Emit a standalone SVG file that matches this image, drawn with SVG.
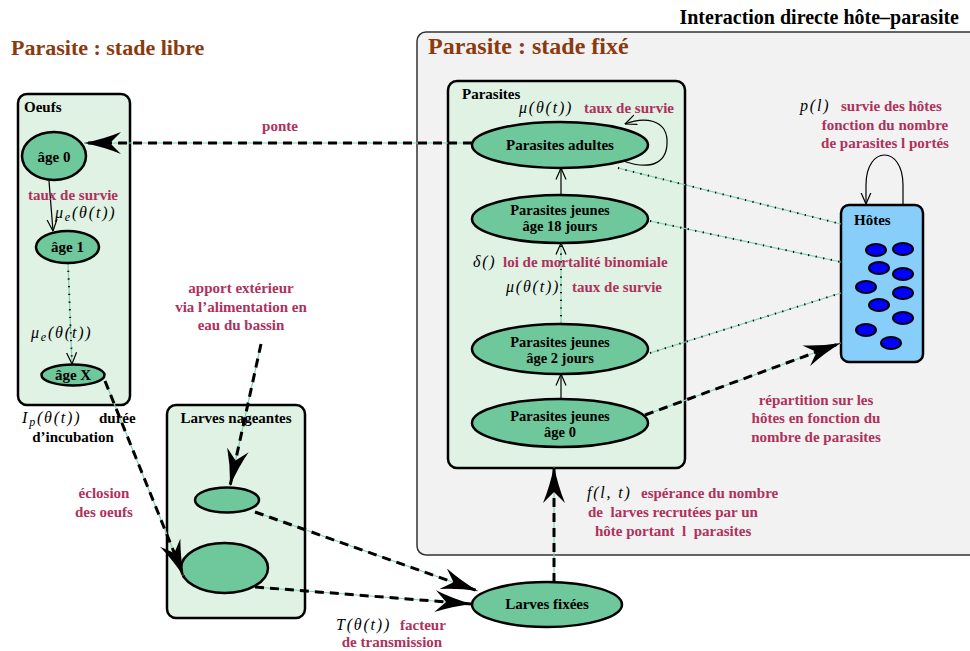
<svg xmlns="http://www.w3.org/2000/svg" width="970" height="651" viewBox="0 0 970 651">
<style>
text{font-family:"Liberation Serif","Times New Roman",serif;}
.lab{font-weight:bold;font-size:15px;fill:#000;text-anchor:middle}
.lab2{font-weight:bold;font-size:14.5px;fill:#000;text-anchor:middle}
.hd{font-weight:bold;font-size:15px;fill:#000}
.red{font-weight:bold;font-size:15px;fill:#b0305c}
.redc{font-weight:bold;font-size:15px;fill:#b0305c;text-anchor:middle}
.m{font-style:italic;font-size:16px;fill:#000;letter-spacing:1.8px}
.box{fill:#dff2e4;stroke:#000;stroke-width:2.5}
.ell{fill:#6fc79c;stroke:#000;stroke-width:2.5}
.g{fill:none;stroke:#7fd3b0;stroke-width:1.2}
.dash{fill:none;stroke:#000;stroke-width:3;stroke-dasharray:9 6}
.dot{fill:none;stroke:#000;stroke-width:2;stroke-dasharray:1.2 6.5}
.thin{fill:none;stroke:#000;stroke-width:1.2}
.host{fill:#0000ff;stroke:#000;stroke-width:2}
</style>
<defs>
<marker id="big" markerUnits="userSpaceOnUse" viewBox="0 0 38 22" markerWidth="38" markerHeight="22" refX="37" refY="11" orient="auto">
<path d="M37,11 Q17,7 0,0 L11,11 L0,22 Q17,15 37,11 Z" fill="#000" stroke="none"/>
</marker>
<marker id="open" markerUnits="userSpaceOnUse" viewBox="0 0 12 12" markerWidth="12" markerHeight="12" refX="11.5" refY="6" orient="auto">
<path d="M0,1 L11.5,6 L0,11" fill="none" stroke="#000" stroke-width="1.2" stroke-dasharray="none"/>
</marker>
</defs>

<rect width="970" height="651" fill="#fff"/>

<g id="titles">
<text x="959" y="24" font-weight="bold" font-size="20" text-anchor="end">Interaction directe hôte–parasite</text>
<text x="11" y="55" font-weight="bold" font-size="22" fill="#8b3a0f">Parasite : stade libre</text>
</g>

<g id="fixe">
<rect x="417" y="32" width="570" height="523" rx="9" fill="#f2f2f2" stroke="#333" stroke-width="1.5"/>
<text x="428" y="54" font-weight="bold" font-size="24" fill="#8b3a0f">Parasite : stade fixé</text>
</g>

<g id="oeufs">
<rect class="box" x="18" y="94" width="112" height="311" rx="9"/>
<text class="hd" x="24" y="112">Oeufs</text>
</g>
<g id="age0"><ellipse class="ell" cx="54" cy="156" rx="32" ry="24"/><text class="lab" x="54" y="162">âge 0</text></g>
<g id="age1"><ellipse class="ell" cx="67.5" cy="247" rx="31.5" ry="16"/><text class="lab" x="67.5" y="252">âge 1</text></g>
<g id="ageX"><ellipse class="ell" cx="73" cy="375" rx="31.5" ry="10.5"/><text class="lab" x="73" y="380">âge X</text></g>

<g id="parasites">
<rect class="box" x="448" y="81" width="237" height="387" rx="9"/>
<text class="hd" x="462" y="99">Parasites</text>
</g>
<g id="adultes"><ellipse class="ell" cx="560" cy="145" rx="88" ry="23"/><text class="lab" x="560" y="150">Parasites adultes</text></g>
<g id="j18"><ellipse class="ell" cx="560" cy="219" rx="88" ry="24"/><text class="lab2" x="560" y="215">Parasites jeunes</text><text class="lab2" x="560" y="231">âge 18 jours</text></g>
<g id="j2"><ellipse class="ell" cx="560" cy="349" rx="88" ry="25"/><text class="lab2" x="560" y="347">Parasites jeunes</text><text class="lab2" x="560" y="363">âge 2 jours</text></g>
<g id="j0"><ellipse class="ell" cx="560" cy="423" rx="88" ry="24"/><text class="lab2" x="560" y="421">Parasites jeunes</text><text class="lab2" x="560" y="437">âge 0</text></g>

<g id="hotes">
<rect x="841" y="205" width="82" height="157" rx="8" fill="#87cefa" stroke="#000" stroke-width="2.5"/>
<text class="hd" x="854" y="225">Hôtes</text>
<ellipse class="host" cx="876" cy="250" rx="10" ry="6"/>
<ellipse class="host" cx="903" cy="249" rx="10" ry="6"/>
<ellipse class="host" cx="879" cy="268" rx="10" ry="6"/>
<ellipse class="host" cx="903" cy="274" rx="10" ry="6"/>
<ellipse class="host" cx="866" cy="287" rx="10" ry="6"/>
<ellipse class="host" cx="903" cy="293" rx="10" ry="6"/>
<ellipse class="host" cx="879" cy="305" rx="10" ry="6"/>
<ellipse class="host" cx="903" cy="318" rx="10" ry="6"/>
<ellipse class="host" cx="866" cy="330" rx="10" ry="6"/>
<ellipse class="host" cx="891" cy="343" rx="10" ry="6"/>
</g>

<g id="larves">
<rect class="box" x="167" y="405" width="138" height="213" rx="9"/>
<text class="lab" x="236" y="423">Larves nageantes</text>
</g>
<g id="lsmall"><ellipse class="ell" cx="227" cy="500" rx="32" ry="12.5"/></g>
<g id="lbig"><ellipse class="ell" cx="224.5" cy="568" rx="43.5" ry="25"/></g>
<g id="fixees"><ellipse class="ell" cx="547" cy="604.5" rx="75" ry="22.5"/><text class="lab" x="547" y="609">Larves fixées</text></g>

<g id="connectors">
<line class="g" x1="472" y1="143" x2="84" y2="143"/>
<line class="dash" x1="472" y1="143" x2="84" y2="143" marker-end="url(#big)"/>
<line class="thin" x1="49" y1="181" x2="53" y2="231" marker-end="url(#open)"/>
<line class="g" x1="68" y1="263" x2="72" y2="364"/>
<line class="dot" x1="68" y1="263" x2="72" y2="364" marker-end="url(#open)"/>
<line class="g" x1="105" y1="381" x2="184" y2="577"/>
<line class="dash" x1="105" y1="381" x2="184" y2="577" marker-end="url(#big)"/>
<line class="g" x1="261" y1="344" x2="230" y2="486"/>
<line class="dash" x1="261" y1="344" x2="230" y2="486" marker-end="url(#big)"/>
<line class="g" x1="255" y1="512" x2="478" y2="591"/>
<line class="dash" x1="255" y1="512" x2="478" y2="591" marker-end="url(#big)"/>
<line class="g" x1="255" y1="587" x2="472" y2="604"/>
<line class="dash" x1="255" y1="587" x2="472" y2="604" marker-end="url(#big)"/>
<line class="g" x1="554" y1="582" x2="554" y2="466"/>
<line class="dash" x1="554" y1="582" x2="554" y2="466" marker-end="url(#big)"/>
<line class="thin" x1="561" y1="399" x2="561" y2="374" marker-end="url(#open)"/>
<line class="g" x1="561" y1="324" x2="561" y2="243"/>
<line class="dot" x1="561" y1="324" x2="561" y2="243" marker-end="url(#open)"/>
<line class="thin" x1="561" y1="195" x2="561" y2="168" marker-end="url(#open)"/>
<path class="thin" d="M623,161 C655,172 668,160 667,140 C666,120 645,116 625,124" marker-end="url(#open)"/>
<line class="g" x1="618" y1="168" x2="841" y2="224"/>
<line class="dot" x1="618" y1="168" x2="841" y2="224"/>
<line class="g" x1="650" y1="221" x2="841" y2="262"/>
<line class="dot" x1="650" y1="221" x2="841" y2="262"/>
<line class="g" x1="650" y1="353" x2="841" y2="293"/>
<line class="dot" x1="650" y1="353" x2="841" y2="293"/>
<line class="g" x1="645" y1="415" x2="841" y2="343"/>
<line class="dash" x1="645" y1="415" x2="841" y2="343" marker-end="url(#big)"/>
<path class="thin" d="M903,205 L903,185 C903,145 866,145 866,185 L866,204" marker-end="url(#open)"/>
</g>

<g id="labels">
<text class="redc" x="280" y="131">ponte</text>
<text class="redc" x="73" y="200">taux de survie</text>
<text class="m" x="55" y="218">μ<tspan font-size="12" dy="3">e</tspan><tspan dy="-3">(θ(t))</tspan></text>
<text class="m" x="31" y="338">μ<tspan font-size="12" dy="3">e</tspan><tspan dy="-3">(θ(t))</tspan></text>
<text class="m" x="22" y="423">I<tspan font-size="12" dy="3">p</tspan><tspan dy="-3">(θ(t))</tspan></text>
<text class="hd" x="99" y="423">durée</text>
<text class="lab" x="73" y="442">d’incubation</text>
<text class="redc" x="104" y="498">éclosion</text>
<text class="redc" x="104" y="517">des oeufs</text>
<text class="redc" x="241" y="293">apport extérieur</text>
<text class="redc" x="241" y="312">via l’alimentation en</text>
<text class="redc" x="241" y="330">eau du bassin</text>
<text class="m" x="336" y="630">T(θ(t))</text>
<text class="red" x="400" y="630">facteur</text>
<text class="redc" x="392" y="647">de transmission</text>
<text class="m" x="519" y="113">μ(θ(t))</text>
<text class="red" x="584" y="113">taux de survie</text>
<text class="m" x="473" y="267">δ()</text>
<text class="red" x="503" y="267">loi de mortalité binomiale</text>
<text class="m" x="506" y="292">μ(θ(t))</text>
<text class="red" x="572" y="292">taux de survie</text>
<text class="m" x="800" y="111">p(l)</text>
<text class="red" x="841" y="111">survie des hôtes</text>
<text class="redc" x="885" y="130">fonction du nombre</text>
<text class="redc" x="885" y="148">de parasites l portés</text>
<text class="redc" x="816" y="405">répartition sur les</text>
<text class="redc" x="816" y="423">hôtes en fonction du</text>
<text class="redc" x="816" y="442">nombre de parasites</text>
<text class="m" x="587" y="498">f(l, t)</text>
<text class="red" x="641" y="498">espérance du nombre</text>
<text class="red" x="588" y="517" style="white-space:pre">de  larves recrutées par un</text>
<text class="red" x="595" y="536" style="white-space:pre">hôte portant  l  parasites</text>
</g>
</svg>
